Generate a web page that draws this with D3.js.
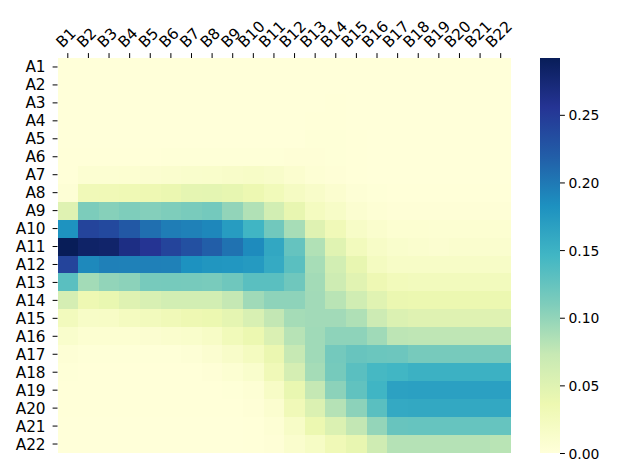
<!DOCTYPE html>
<html>
<head>
<meta charset="utf-8">
<script src="https://cdn.jsdelivr.net/npm/d3@7/dist/d3.min.js"></script>
<style>
  body { margin: 0; background: #ffffff; }
  svg { display: block; font-family: "DejaVu Sans", sans-serif; }
</style>
</head>
<body>
<svg id="chart" width="640" height="476"></svg>
<script>
// ---------- data ----------
const rowLabels = ["A1","A2","A3","A4","A5","A6","A7","A8","A9","A10","A11",
                   "A12","A13","A14","A15","A16","A17","A18","A19","A20","A21","A22"];
const colLabels = ["B1","B2","B3","B4","B5","B6","B7","B8","B9","B10","B11",
                   "B12","B13","B14","B15","B16","B17","B18","B19","B20","B21","B22"];
const colorbarTicks = [0.00, 0.05, 0.10, 0.15, 0.20, 0.25];

// values[row][col]  (rows A1..A22, columns B1..B22)
const values = [
  [0,0,0,0,0,0,0,0,0,0,0,0,0,0,0,0,0,0,0,0,0,0],
  [0,0,0,0,0,0,0,0,0,0,0,0,0,0,0,0,0,0,0,0,0,0],
  [0,0,0,0,0,0,0,0,0,0,0,0,0,0.001,0,0,0,0,0,0,0,0],
  [0,0,0,0,0,0,0,0,0,0,0,0,0.001,0.001,0,0,0,0,0,0,0,0],
  [0,0,0,0,0,0,0,0,0,0,0,0,0.002,0.002,0.001,0,0,0,0,0,0,0],
  [0.0005,0.0005,0.0005,0.0005,0.0005,0.002,0.002,0.002,0.002,0.002,0.002,0.003,0.003,0.002,0.001,0,0,0,0,0,0,0],
  [0.001,0.006,0.006,0.007,0.008,0.010,0.012,0.013,0.015,0.016,0.014,0.009,0.005,0.003,0.001,0,0,0,0,0,0,0],
  [0.004,0.030,0.031,0.033,0.035,0.038,0.044,0.045,0.042,0.036,0.028,0.020,0.015,0.009,0.004,0.002,0.001,0.001,0.001,0.001,0.001,0.001],
  [0.050,0.111,0.106,0.110,0.107,0.110,0.113,0.116,0.100,0.084,0.062,0.041,0.023,0.016,0.008,0.005,0.003,0.003,0.003,0.003,0.003,0.003],
  [0.181,0.242,0.237,0.224,0.207,0.197,0.194,0.190,0.172,0.147,0.118,0.089,0.050,0.030,0.016,0.011,0.007,0.007,0.006,0.006,0.007,0.007],
  [0.292,0.283,0.281,0.265,0.256,0.242,0.231,0.219,0.205,0.187,0.161,0.125,0.084,0.049,0.026,0.016,0.012,0.010,0.008,0.010,0.010,0.010],
  [0.242,0.188,0.195,0.194,0.195,0.194,0.182,0.178,0.177,0.174,0.158,0.131,0.089,0.062,0.041,0.022,0.016,0.016,0.016,0.016,0.016,0.016],
  [0.131,0.091,0.100,0.103,0.114,0.115,0.114,0.113,0.119,0.131,0.131,0.119,0.091,0.066,0.048,0.034,0.027,0.026,0.026,0.026,0.026,0.026],
  [0.060,0.035,0.040,0.050,0.057,0.062,0.062,0.062,0.074,0.093,0.102,0.102,0.092,0.080,0.064,0.049,0.038,0.037,0.037,0.037,0.037,0.037],
  [0.026,0.016,0.017,0.023,0.026,0.030,0.035,0.037,0.044,0.057,0.075,0.090,0.092,0.092,0.085,0.067,0.054,0.050,0.050,0.050,0.050,0.050],
  [0.012,0.007,0.007,0.007,0.008,0.011,0.013,0.017,0.028,0.037,0.055,0.081,0.093,0.102,0.102,0.093,0.078,0.077,0.077,0.077,0.077,0.077],
  [0.004,0.002,0.002,0.002,0.002,0.002,0.004,0.008,0.015,0.023,0.038,0.073,0.093,0.116,0.123,0.121,0.120,0.114,0.114,0.114,0.114,0.114],
  [0.002,0.001,0.001,0.001,0.001,0.001,0.001,0.003,0.006,0.012,0.030,0.060,0.090,0.115,0.131,0.143,0.146,0.151,0.151,0.151,0.151,0.151],
  [0.001,0.001,0.001,0.001,0.001,0.001,0.001,0.001,0.002,0.005,0.017,0.040,0.074,0.103,0.127,0.147,0.167,0.168,0.168,0.168,0.168,0.168],
  [0.0005,0.0005,0.0005,0.0005,0.0005,0.0005,0.0005,0.0005,0.0005,0.003,0.009,0.030,0.054,0.082,0.103,0.131,0.159,0.160,0.160,0.160,0.160,0.160],
  [0,0,0,0,0,0,0,0,0,0.001,0.005,0.016,0.037,0.054,0.075,0.099,0.123,0.124,0.124,0.124,0.124,0.124],
  [0,0,0,0,0,0,0,0,0,0.0005,0.003,0.011,0.018,0.031,0.041,0.065,0.082,0.082,0.082,0.082,0.082,0.080]
];

// ---------- colormap (YlGnBu) ----------
const palette = ["#ffffd9","#edf8b1","#c7e9b4","#7fcdbb","#41b6c4","#1d91c0","#225ea8","#253494","#081d58"];

// ---------- layout ----------
const FS_AXIS = 15.3;   // heatmap tick labels
const FS_CBAR = 13.9;   // colorbar tick labels
const plot = { left: 57.5, right: 511, top: 58, bottom: 453 };
const cbar = { left: 540, right: 560 };
const TICK = 4.9;

const svg = d3.select("#chart");
svg.append("rect").attr("width", 640).attr("height", 476).attr("fill", "#fff");

const x = d3.scaleBand().domain(colLabels).range([plot.left, plot.right]);
const y = d3.scaleBand().domain(rowLabels).range([plot.top, plot.bottom]);

const flat = values.flat();
const vmin = d3.min(flat), vmax = d3.max(flat);
const stops = palette.map((_, i) => vmin + (vmax - vmin) * i / (palette.length - 1));
const color = d3.scaleLinear().domain(stops).range(palette).interpolate(d3.interpolateRgb).clamp(true);

// cells
const cells = [];
values.forEach((row, i) => row.forEach((v, j) => cells.push({ r: rowLabels[i], c: colLabels[j], v })));
svg.append("g").attr("shape-rendering", "crispEdges")
  .selectAll("rect").data(cells).join("rect")
  .attr("x", d => Math.round(x(d.c)))
  .attr("y", d => Math.round(y(d.r)))
  .attr("width", d => Math.round(x(d.c) + x.bandwidth()) - Math.round(x(d.c)))
  .attr("height", d => Math.round(y(d.r) + y.bandwidth()) - Math.round(y(d.r)))
  .attr("fill", d => color(d.v));

// x axis (top, rotated labels)
const gx = svg.append("g").attr("transform", `translate(0,${plot.top})`)
  .call(d3.axisTop(x).tickSize(TICK).tickSizeOuter(0).tickPadding(0));
gx.select(".domain").remove();
gx.selectAll(".tick line").attr("stroke", "#000").attr("stroke-width", 1);
gx.selectAll(".tick text")
  .attr("font-size", FS_AXIS).attr("font-family", "DejaVu Sans").attr("fill", "#000")
  .attr("text-anchor", "middle")
  .each(function () {
    const w = this.getComputedTextLength();
    const yc = -13.2 - w * 0.3536;
    d3.select(this).attr("x", 0).attr("y", 0).attr("dy", "0.35em")
      .attr("transform", `translate(-1.9,${yc}) rotate(-45)`);
  });

// y axis
const gy = svg.append("g").attr("transform", `translate(${plot.left},0)`)
  .call(d3.axisLeft(y).tickSize(TICK).tickSizeOuter(0).tickPadding(7));
gy.select(".domain").remove();
gy.selectAll(".tick line").attr("stroke", "#000").attr("stroke-width", 1);
gy.selectAll(".tick text")
  .attr("font-size", FS_AXIS).attr("font-family", "DejaVu Sans").attr("fill", "#000")
  .attr("dy", "0.36em");

// colorbar
const defs = svg.append("defs");
const grad = defs.append("linearGradient").attr("id", "cbgrad")
  .attr("x1", 0).attr("y1", 1).attr("x2", 0).attr("y2", 0);
grad.selectAll("stop").data(palette).join("stop")
  .attr("offset", (d, i) => i / (palette.length - 1))
  .attr("stop-color", d => d);

const cy = d3.scaleLinear().domain([vmin, vmax]).range([plot.bottom, plot.top]);
svg.append("rect")
  .attr("x", cbar.left).attr("y", cy(vmax))
  .attr("width", cbar.right - cbar.left).attr("height", cy(vmin) - cy(vmax))
  .attr("fill", "url(#cbgrad)");

const gc = svg.append("g").attr("transform", `translate(${cbar.right},0)`)
  .call(d3.axisRight(cy).tickValues(colorbarTicks).tickFormat(d3.format(".2f"))
    .tickSize(TICK).tickSizeOuter(0).tickPadding(3.5));
gc.select(".domain").remove();
gc.selectAll(".tick line").attr("stroke", "#000").attr("stroke-width", 1);
gc.selectAll(".tick text")
  .attr("font-size", FS_CBAR).attr("font-family", "DejaVu Sans").attr("fill", "#000")
  .attr("dy", "0.36em");
</script>
</body>
</html>
